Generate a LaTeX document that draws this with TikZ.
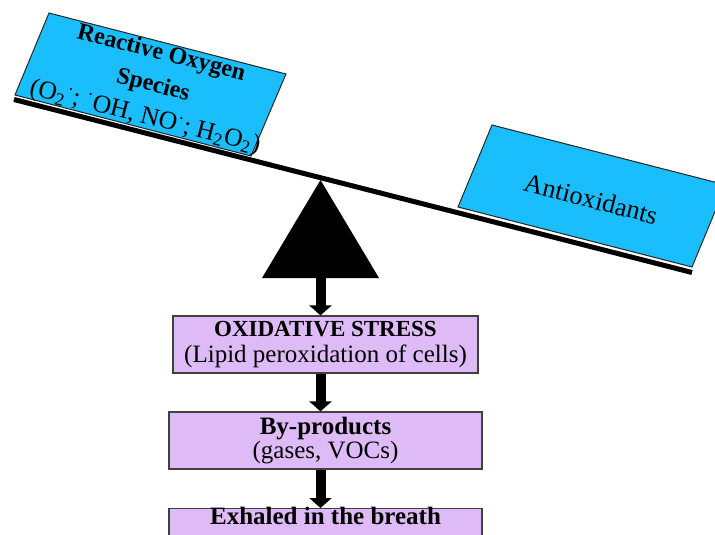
\documentclass[tikz,border=0pt]{standalone}
\usepackage{fontspec}
\setmainfont{Liberation Serif}
\usetikzlibrary{arrows.meta}

\begin{document}
\begin{tikzpicture}[x=0.5pt,y=-0.5pt,>={Triangle[width=11pt,length=5pt]}]

\definecolor{skyblue}{RGB}{26,190,252}
\definecolor{lilac}{RGB}{222,186,246}

\tikzset{
	plate/.style={fill=skyblue,draw=black!85,line width=0.5pt},
	stage/.style={fill=lilac,draw=black!75,line width=0.6pt,align=center,
		inner sep=0pt,minimum width=156.5pt,minimum height=28.5pt,
		font=\fontsize{12.5}{13}\selectfont},
	flow/.style={->,line width=5pt}
}

\useasboundingbox (0,0) rectangle (715,534);
\clip (0,0) rectangle (715,534);

% lever and pivot
\draw[line width=2.5pt] (14,99.5)--(692,272.5);
\fill (320.5,180)--(379,278)--(262,278)--cycle;
\coordinate (pivot) at (320.5,278);

% the two loads
\draw[plate] (15,95)--(251,156)--(286,74)--(49,13)--cycle;
\node[rotate=-14.3,align=center,font=\fontsize{12}{14}\selectfont] (ros) at (153,86)
	{\textbf{Reactive Oxygen}\\[2.5pt]\textbf{Species}\\[2.5pt]
	{\fontsize{12.8}{14}\selectfont (O\textsubscript{2}\textsuperscript{·}; \textsuperscript{·}OH, NO\textsuperscript{·}; H\textsubscript{2}O\textsubscript{2})}};

\draw[plate] (458,207)--(692,267)--(726,185)--(492,125)--cycle;
\node[rotate=-14.3,font=\fontsize{13.2}{15}\selectfont] (antiox) at (591,199) {Antioxidants};

% chain of effects
\node[stage,minimum width=152.5pt] (stress) at (325.5,344.5)
	{{\bfseries\fontsize{11.5}{13}\selectfont OXIDATIVE STRESS}\\(Lipid peroxidation of cells)};
\node[stage,font=\fontsize{12.5}{12}\selectfont] (bypro) at (325.5,440.5)
	{\textbf{By-products}\\(gases, VOCs)};
\node[stage,anchor=north,minimum height=0pt,text height=7pt,text depth=30pt,inner ysep=0.8pt] (breath) at (325.5,508)
	{\textbf{Exhaled in the breath}};

\draw[flow] (pivot) -- (pivot |- stress.north);
\draw[flow] (stress.south -| pivot) -- (pivot |- bypro.north);
\draw[flow] (bypro.south -| pivot) -- (pivot |- breath.north);

\end{tikzpicture}
\end{document}
